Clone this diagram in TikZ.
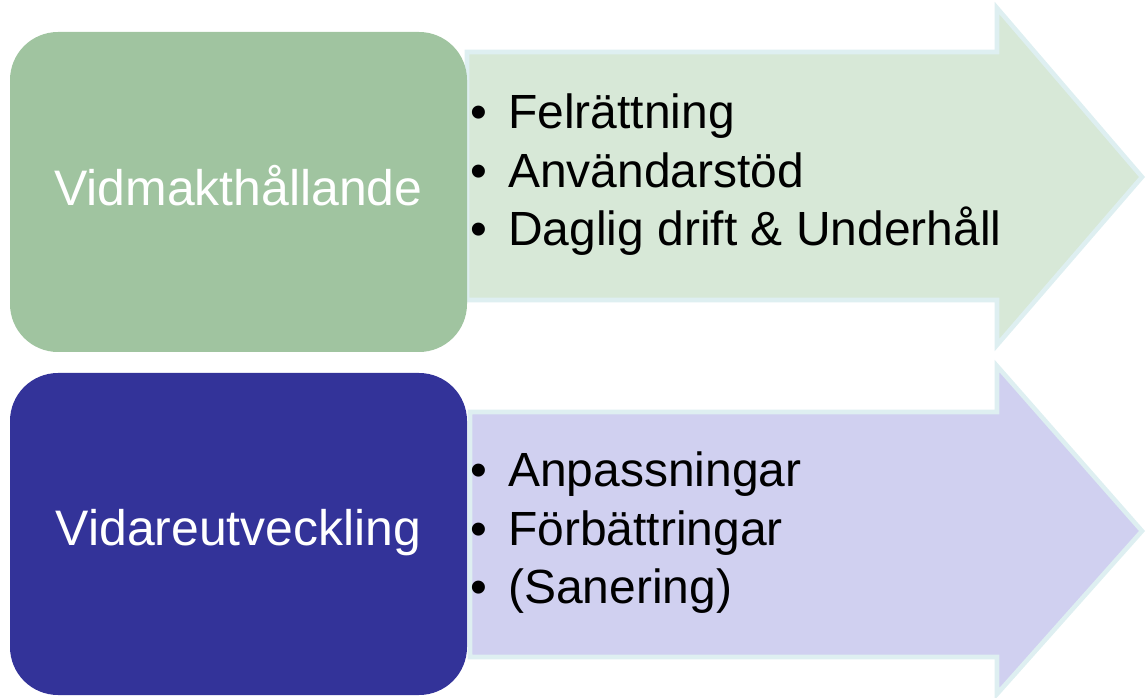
\documentclass[tikz,border=0pt]{standalone}
\usepackage{fontspec}
\setmainfont{Liberation Sans}
\usepackage{tikz}
\newcommand{\pkt}{\makebox[0.76cm][l]{•}}

\begin{document}
\begin{tikzpicture}[
  phase/.style={rounded corners=0.96cm, minimum width=9.14cm, inner sep=0pt, text depth=0.28cm, text=white, font=\fontsize{28.4}{34}\selectfont},
  pil/.style={line width=2.6pt, line join=miter, draw=cpo},
  punkter/.style={align=left, anchor=west, inner sep=0pt, font=\fontsize{27.3}{33.3}\selectfont}
]
\definecolor{cfp0}{rgb}{0.627,0.769,0.627}
\definecolor{cfp1}{rgb}{0.200,0.200,0.600}
\definecolor{cpf0}{rgb}{0.843,0.910,0.843}
\definecolor{cpf1}{rgb}{0.816,0.816,0.941}
\definecolor{cpo}{rgb}{0.870,0.937,0.945}
%
\useasboundingbox (0,0) rectangle (22.92,13.94);
%
\draw[pil,fill=cpf0] (9.34,12.90) -- (19.94,12.90) -- (19.94,13.78) -- (22.84,10.40) -- (19.94,7.04) -- (19.94,7.94) -- (9.34,7.94) -- cycle;
\draw[pil,fill=cpf1] (9.40,5.70) -- (19.94,5.70) -- (19.94,6.62) -- (22.84,3.32) -- (19.94,0.06) -- (19.94,0.80) -- (9.40,0.80) -- cycle;
%
\node[phase,fill=cfp0,minimum height=6.4cm] (p0) at (4.77,10.10) {Vidmakthållande};
\node[phase,fill=cfp1,minimum height=6.44cm] (p1) at (4.77,3.26) {Vidareutveckling};
%
\node[punkter] (l0) at (9.40,10.44) {\pkt Felrättning\\\pkt Användarstöd\\\pkt Daglig drift \& Underhåll};
\node[punkter] (l1) at (9.40,3.28) {\pkt Anpassningar\\\pkt Förbättringar\\\pkt (Sanering)};
%
\end{tikzpicture}
\end{document}
